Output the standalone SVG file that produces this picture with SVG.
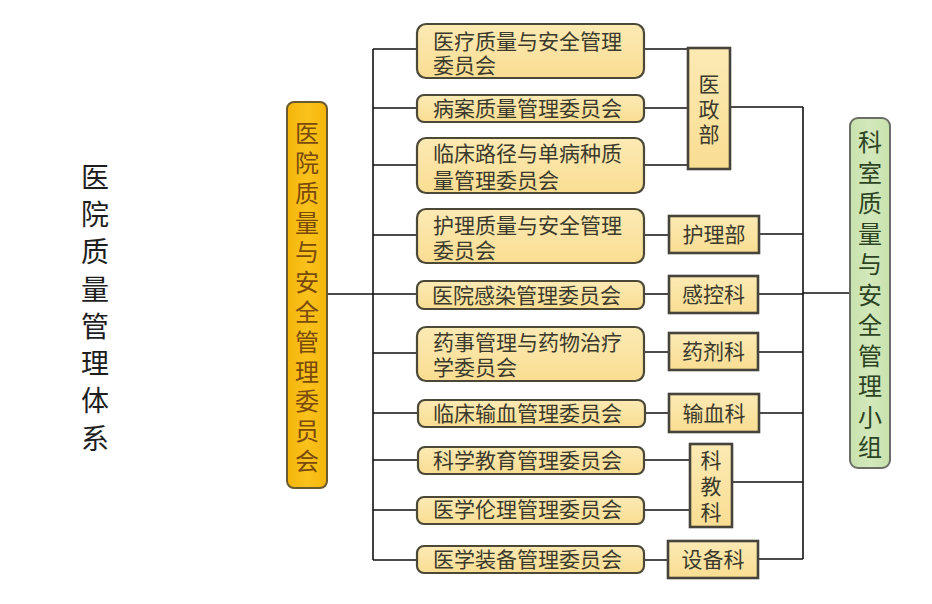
<svg xmlns="http://www.w3.org/2000/svg" width="932" height="604" viewBox="0 0 932 604">
<defs>
<linearGradient id="gY" x1="0" y1="0" x2="0" y2="1">
<stop offset="0" stop-color="#FCEAB4"/>
<stop offset="1" stop-color="#F9DD92"/>
</linearGradient>
<linearGradient id="gO" x1="0" y1="0" x2="1" y2="0">
<stop offset="0" stop-color="#F5B50A"/>
<stop offset="0.5" stop-color="#FAC21C"/>
<stop offset="1" stop-color="#F5B50A"/>
</linearGradient>
<linearGradient id="gG" x1="0" y1="0" x2="1" y2="0">
<stop offset="0" stop-color="#C8E2AC"/>
<stop offset="0.5" stop-color="#D3E8BC"/>
<stop offset="1" stop-color="#C8E2AC"/>
</linearGradient>
<style>
text{font-family:"Noto Sans CJK SC","Noto Sans CJK JP",sans-serif;}
.comm{fill:url(#gY);stroke:#4b4838;stroke-width:2.2;}
.dept{fill:url(#gY);stroke:#45433a;stroke-width:2.6;}
.ct{font-size:21px;fill:#3b3a2c;}
.dt{font-size:21px;fill:#3b3a2c;text-anchor:middle;}
.vt{writing-mode:vertical-rl;text-anchor:start;}
.ln{stroke:#111;stroke-width:1.6;fill:none;}
</style>
</defs>
<rect width="932" height="604" fill="#ffffff"/>

<g id="title">
<text class="vt" x="95" y="163" font-size="28" fill="#1e1e1e" letter-spacing="9.3">医院质量管理体系</text>
</g>

<g id="connectors">
<path class="ln" d="M373 49V560"/>
<path class="ln" d="M327 294H373"/>
<path class="ln" d="M373 49H417M373 108H417M373 165H417M373 235H417M373 294H417M373 353H417M373 413H417M373 460H417M373 510H417M373 560H417"/>
<path class="ln" d="M644 49H688M644 108H688M644 165H688"/>
<path class="ln" d="M644 235H669M644 294H669M644 352H669M644 413H669M644 460H690M644 510H690M644 560H668"/>
<path class="ln" d="M730 107H803M759 234H803M758 294H803M758 352H803M759 413H803M732 482H803M758 559H803"/>
<path class="ln" d="M803 107V559"/>
<path class="ln" d="M803 293H850"/>
</g>

<g id="hospital-committee">
<rect x="287" y="102" width="40" height="386" rx="7" fill="url(#gO)" stroke="#6a5a30" stroke-width="2"/>
<text class="vt" x="307" y="121" font-size="24" fill="#7a4a0c" letter-spacing="5.8">医院质量与安全管理委员会</text>
</g>

<g id="c1"><rect class="comm" x="417" y="24" width="227" height="54" rx="9"/><text class="ct"><tspan x="433" y="49">医疗质量与安全管理</tspan><tspan x="433" y="73">委员会</tspan></text></g>
<g id="c2"><rect class="comm" x="417" y="95" width="227" height="27" rx="7"/><text class="ct" x="433" y="116">病案质量管理委员会</text></g>
<g id="c3"><rect class="comm" x="417" y="138" width="227" height="55" rx="9"/><text class="ct"><tspan x="433" y="161">临床路径与单病种质</tspan><tspan x="433" y="188">量管理委员会</tspan></text></g>
<g id="c4"><rect class="comm" x="417" y="209" width="227" height="54" rx="9"/><text class="ct"><tspan x="433" y="233">护理质量与安全管理</tspan><tspan x="433" y="258">委员会</tspan></text></g>
<g id="c5"><rect class="comm" x="417" y="281" width="227" height="28" rx="7"/><text class="ct" x="432" y="303">医院感染管理委员会</text></g>
<g id="c6"><rect class="comm" x="417" y="327" width="227" height="54" rx="9"/><text class="ct"><tspan x="433" y="350">药事管理与药物治疗</tspan><tspan x="433" y="375">学委员会</tspan></text></g>
<g id="c7"><rect class="comm" x="418" y="400" width="227" height="27" rx="7"/><text class="ct" x="433" y="421">临床输血管理委员会</text></g>
<g id="c8"><rect class="comm" x="418" y="447" width="226" height="27" rx="7"/><text class="ct" x="433" y="468">科学教育管理委员会</text></g>
<g id="c9"><rect class="comm" x="417" y="497" width="227" height="27" rx="7"/><text class="ct" x="433" y="517">医学伦理管理委员会</text></g>
<g id="c10"><rect class="comm" x="417" y="546" width="227" height="27" rx="7"/><text class="ct" x="433" y="567">医学装备管理委员会</text></g>

<g id="d-yizheng"><rect class="dept" x="688" y="48" width="42" height="121"/><text class="ct vt" x="709" y="73.5" letter-spacing="4">医政部</text></g>
<g id="d-huli"><rect class="dept" x="669" y="216" width="90" height="37"/><text class="dt" x="714" y="242">护理部</text></g>
<g id="d-gankong"><rect class="dept" x="669" y="276" width="89" height="37"/><text class="dt" x="713.5" y="302">感控科</text></g>
<g id="d-yaoji"><rect class="dept" x="669" y="333" width="89" height="37"/><text class="dt" x="713.5" y="359">药剂科</text></g>
<g id="d-shuxue"><rect class="dept" x="669" y="394" width="90" height="38"/><text class="dt" x="714" y="421">输血科</text></g>
<g id="d-kejiao"><rect class="dept" x="690" y="444" width="42" height="83"/><text class="ct vt" x="711" y="449.5" letter-spacing="5">科教科</text></g>
<g id="d-shebei"><rect class="dept" x="668" y="541" width="90" height="37"/><text class="dt" x="713" y="567">设备科</text></g>

<g id="dept-group">
<rect x="850" y="118" width="40" height="350" rx="8" fill="url(#gG)" stroke="#6a6e66" stroke-width="2"/>
<text class="vt" x="870" y="130" font-size="24" fill="#2c4422" letter-spacing="6.5">科室质量与安全管理小组</text>
</g>
</svg>
